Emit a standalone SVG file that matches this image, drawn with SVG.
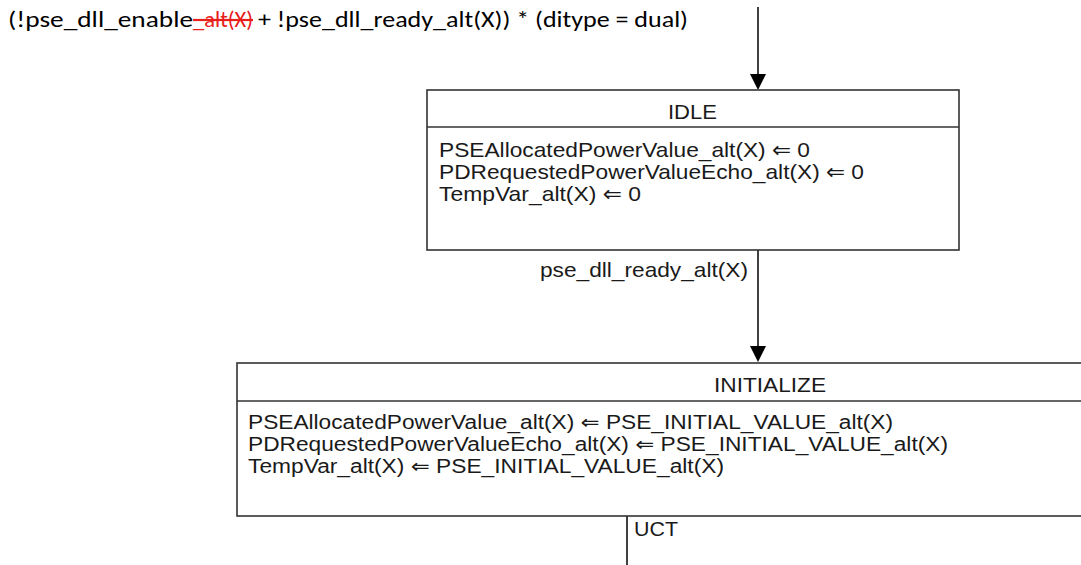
<svg xmlns="http://www.w3.org/2000/svg" width="1081" height="565" viewBox="0 0 1081 565">
<defs>
<style>
.box{fill:#fff;stroke:#333;stroke-width:1.6}
.div{stroke:#333;stroke-width:1.6;fill:none}
.conn{stroke:#000;stroke-width:1.5;fill:none}
.t{font-family:"Liberation Sans",Arial,"DejaVu Sans",sans-serif;font-size:21px;fill:#1a1a1a}
.n{font-family:"Liberation Sans",Arial,"DejaVu Sans",sans-serif;font-size:20px;fill:#1a1a1a}
.c{font-family:Carlito,Calibri,"Liberation Sans","DejaVu Sans",sans-serif;font-size:22px;fill:#000}
.red{fill:#e8201c;text-decoration:line-through}
</style>
</defs>
<rect width="1081" height="565" fill="#fff"/>
<g id="condition">
<text class="c" x="8" y="27" textLength="185" lengthAdjust="spacingAndGlyphs">(!pse_dll_enable</text>
<text class="c red" x="193" y="27" textLength="60" lengthAdjust="spacingAndGlyphs">_alt(X)</text>
<text class="c" x="258" y="27" textLength="430" lengthAdjust="spacingAndGlyphs">+ !pse_dll_ready_alt(X)) * (ditype = dual)</text>
</g>
<g id="connectors">
<path class="conn" d="M758,7 V74" />
<path d="M750,74 L766,74 L758,90 Z" fill="#000"/>
<path class="conn" d="M758,250 V346" />
<path d="M750,346 L766,346 L758,362 Z" fill="#000"/>
<path class="conn" d="M627,516 V565" />
<text class="n" x="634" y="536" textLength="44" lengthAdjust="spacingAndGlyphs">UCT</text>
<text class="t" x="540" y="277" textLength="208" lengthAdjust="spacingAndGlyphs">pse_dll_ready_alt(X)</text>
</g>
<g id="IDLE">
<rect class="box" x="427" y="90" width="532" height="160"/>
<path class="div" d="M427,127 H959"/>
<text class="t" x="668" y="119" textLength="49" lengthAdjust="spacingAndGlyphs">IDLE</text>
<text class="t" x="439" y="157" textLength="371" lengthAdjust="spacingAndGlyphs">PSEAllocatedPowerValue_alt(X) ⇐ 0</text>
<text class="t" x="439" y="179" textLength="425" lengthAdjust="spacingAndGlyphs">PDRequestedPowerValueEcho_alt(X) ⇐ 0</text>
<text class="t" x="439" y="201" textLength="202" lengthAdjust="spacingAndGlyphs">TempVar_alt(X) ⇐ 0</text>
</g>
<g id="INITIALIZE">
<rect class="box" x="237" y="363" width="900" height="153"/>
<path class="div" d="M237,401 H1137"/>
<text class="n" x="714" y="392" textLength="112" lengthAdjust="spacingAndGlyphs">INITIALIZE</text>
<text class="n" x="248" y="429" textLength="645" lengthAdjust="spacingAndGlyphs">PSEAllocatedPowerValue_alt(X) ⇐ PSE_INITIAL_VALUE_alt(X)</text>
<text class="n" x="248" y="451" textLength="700" lengthAdjust="spacingAndGlyphs">PDRequestedPowerValueEcho_alt(X) ⇐ PSE_INITIAL_VALUE_alt(X)</text>
<text class="n" x="248" y="473" textLength="476" lengthAdjust="spacingAndGlyphs">TempVar_alt(X) ⇐ PSE_INITIAL_VALUE_alt(X)</text>
</g>
</svg>
